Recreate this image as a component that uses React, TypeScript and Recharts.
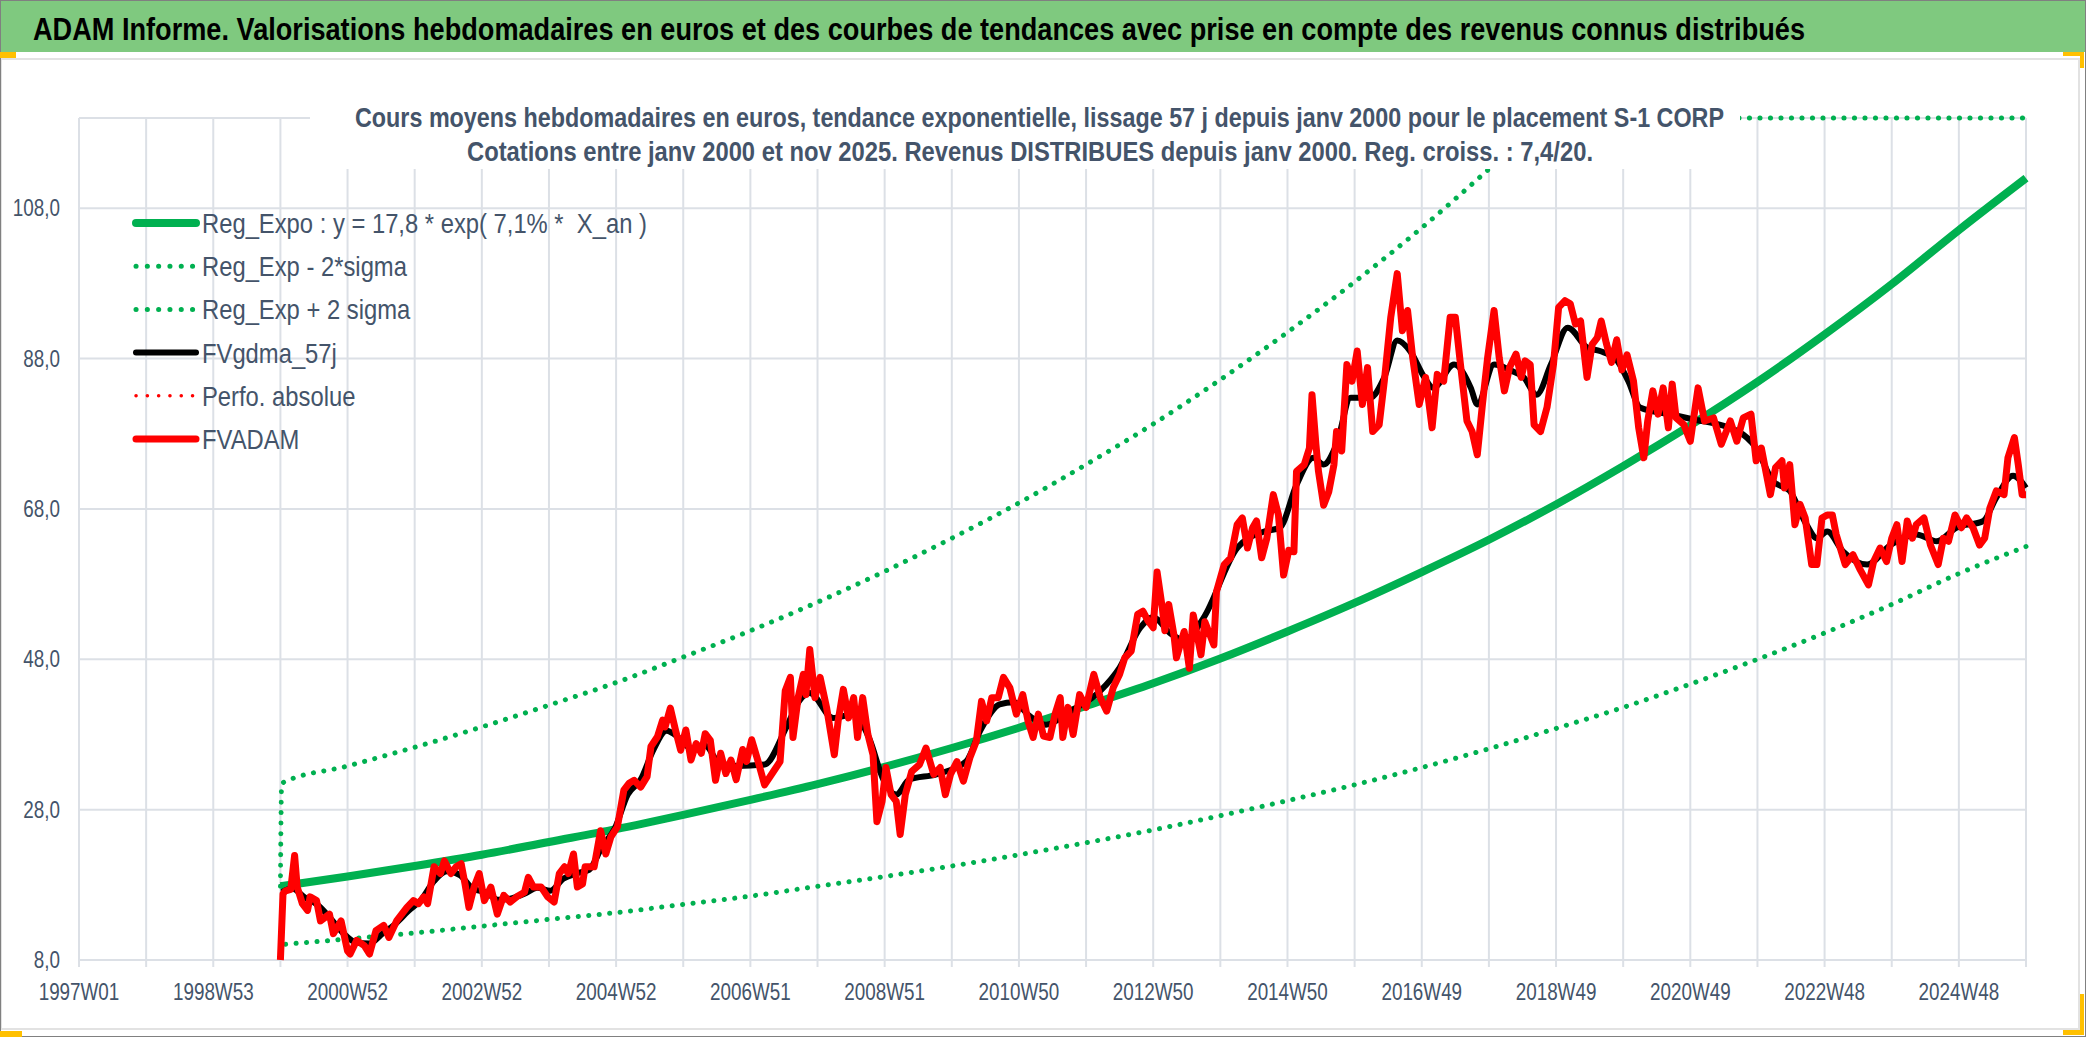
import React from 'react';
import { LineChart, Line, XAxis, YAxis, CartesianGrid } from 'recharts';

const FONT = "'Liberation Sans Narrow', 'Liberation Sans', Arial, sans-serif";
const SLATE = '#44546A';
const GRID = '#DCE0E6';
const GREEN = '#00B050';
const RED = '#FF0000';
const NARROW = 0.82; // the source uses a condensed face

// x = weeks counted from 1997W01, one label every 104 weeks
const X_LABELS = ['1997W01', '1998W53', '2000W52', '2002W52', '2004W52', '2006W51', '2008W51', '2010W50', '2012W50', '2014W50', '2016W49', '2018W49', '2020W49', '2022W48', '2024W48'];
const Y_TICKS = [8, 28, 48, 68, 88, 108];

// Reg_Expo, one value per year from 2000W01 (week 156)
const REG_V = [17.8, 19.1, 20.5, 22.0, 23.7, 25.4, 27.3, 29.3, 31.4, 33.7, 36.2, 38.9, 41.8, 44.8, 48.1, 51.7, 55.5, 59.6, 63.9, 68.6, 73.7, 79.1, 84.9, 91.2, 97.9, 105.1, 112.0];

// Reg_Exp + 2 sigma (stuck on the top of the plot once past 120)
const UPPER_W = [156, 157, 208, 260, 312, 364, 416, 468, 520, 572, 624, 676, 728, 780, 832, 884, 936, 988, 1040, 1092, 1136, 1508];
const UPPER_V = [17.8, 31.5, 33.8, 36.3, 39.0, 41.9, 44.9, 48.3, 51.8, 55.6, 59.7, 64.1, 68.8, 73.9, 79.3, 85.2, 91.5, 98.2, 105.4, 113.2, 120, 120];

// Reg_Exp - 2*sigma
const LOWER_W = [160, 208, 260, 312, 364, 416, 468, 520, 572, 624, 676, 728, 780, 832, 884, 936, 988, 1040, 1092, 1144, 1196, 1248, 1300, 1352, 1404, 1456, 1508];
const LOWER_V = [10.1, 10.8, 11.6, 12.5, 13.4, 14.3, 15.4, 16.5, 17.8, 19.1, 20.5, 22.0, 23.6, 25.3, 27.2, 29.2, 31.3, 33.6, 36.1, 38.8, 41.6, 44.7, 48.0, 51.5, 55.3, 59.4, 63.0];

// FVgdma_57j [week, value]
const GDMA: [number, number][] = [
  [157, 17.0], [165, 17.5], [175, 16.3], [185, 15.3], [195, 13.5], [205, 11.5], [215, 10.3], [225, 10.2], [235, 11.5], [245, 12.8],
  [255, 14.5], [265, 16.0], [275, 18.5], [285, 19.8], [295, 19.3], [305, 17.5], [315, 17.0], [325, 16.0], [335, 16.2], [345, 16.8],
  [355, 17.6], [365, 17.2], [375, 18.8], [385, 19.5], [395, 20.0], [405, 23.0], [415, 25.5], [425, 30.0], [435, 32.0], [445, 36.0],
  [455, 38.5], [465, 37.5], [475, 36.0], [485, 36.5], [496, 34.2], [510, 33.8], [531, 34.0], [548, 39.0], [558, 42.5], [566, 43.5],
  [584, 40.2], [600, 40.7], [612, 37.5], [623, 32.0], [633, 30.0], [643, 32.0], [664, 32.7], [687, 34.4], [698, 38.5], [713, 42.0],
  [724, 42.3], [736, 40.5], [749, 39.3], [767, 41.0], [791, 43.8], [806, 46.9], [822, 52.2], [832, 53.6], [845, 51.5], [856, 50.5],
  [871, 53.5], [897, 62.8], [918, 65.0], [930, 65.5], [943, 71.2], [956, 74.8], [964, 73.9], [974, 76.6], [985, 82.8], [1000, 82.8],
  [1011, 85.5], [1021, 90.4], [1031, 89.0], [1042, 85.5], [1049, 84.1], [1065, 87.2], [1078, 84.1], [1083, 81.9], [1096, 87.2], [1109, 86.4],
  [1119, 85.5], [1129, 83.2], [1140, 87.2], [1153, 92.1], [1168, 89.5], [1178, 89.0], [1190, 88.0], [1200, 85.0], [1209, 81.5], [1235, 80.5],
  [1248, 80.0], [1284, 78.4], [1299, 76.1], [1312, 71.7], [1325, 70.4], [1338, 65.9], [1346, 64.1], [1354, 65.0], [1366, 62.4], [1385, 60.6],
  [1403, 63.2], [1423, 64.6], [1439, 63.7], [1454, 65.5], [1475, 66.4], [1485, 69.5], [1498, 72.4], [1508, 70.8],
];

// FVADAM [week, value]
const ADAM: [number, number][] = [
  [156, 8.0], [158, 16.8], [160, 17.2], [164, 17.4], [167, 21.9], [169, 17.7], [173, 15.5], [177, 14.6], [179, 16.4], [184, 15.9],
  [187, 13.2], [194, 14.1], [197, 11.5], [203, 13.2], [208, 9.2], [210, 8.8], [215, 10.6], [221, 9.9], [225, 8.8], [230, 11.9],
  [236, 12.6], [240, 11.0], [246, 13.2], [254, 15.0], [259, 15.9], [263, 15.5], [267, 16.4], [270, 15.5], [275, 20.4], [280, 19.5],
  [283, 21.2], [288, 19.5], [292, 20.4], [296, 20.8], [299, 18.1], [302, 15.0], [306, 17.7], [310, 19.5], [314, 15.9], [319, 17.7],
  [324, 14.1], [329, 16.6], [334, 15.7], [339, 16.4], [345, 17.0], [348, 19.0], [352, 17.7], [358, 17.7], [363, 16.4], [368, 15.7],
  [372, 19.5], [376, 20.4], [379, 19.5], [383, 22.1], [386, 17.7], [390, 18.1], [392, 20.4], [399, 20.4], [404, 25.2], [408, 22.1],
  [412, 24.4], [417, 25.7], [422, 30.6], [426, 31.5], [430, 31.9], [435, 31.0], [440, 32.4], [443, 36.4], [448, 37.7], [452, 39.9],
  [454, 39.0], [458, 41.5], [462, 38.6], [466, 35.9], [470, 38.6], [474, 34.6], [478, 36.8], [482, 35.5], [485, 38.1], [489, 37.2],
  [493, 31.9], [497, 35.5], [501, 32.8], [505, 34.6], [509, 32.0], [514, 36.0], [517, 34.4], [521, 37.3], [526, 34.4], [531, 31.3],
  [538, 33.1], [543, 34.4], [547, 43.8], [551, 45.6], [553, 37.6], [557, 42.9], [561, 46.0], [563, 43.3], [566, 49.3], [570, 42.9],
  [574, 45.6], [579, 41.6], [585, 35.3], [588, 39.8], [592, 44.0], [596, 40.2], [600, 42.9], [603, 37.6], [607, 42.9], [611, 38.0],
  [615, 35.3], [618, 26.4], [622, 29.1], [625, 33.6], [629, 30.0], [633, 29.1], [636, 24.7], [640, 30.0], [645, 33.1], [651, 34.0],
  [656, 36.2], [662, 32.7], [667, 33.6], [671, 30.0], [675, 32.7], [680, 34.4], [685, 31.8], [690, 34.9], [695, 37.1], [699, 42.4],
  [703, 39.8], [707, 42.9], [712, 42.9], [716, 45.6], [721, 44.2], [726, 40.7], [731, 43.3], [735, 39.8], [739, 37.6], [743, 40.7],
  [747, 37.8], [752, 37.6], [756, 40.7], [760, 42.9], [762, 37.6], [766, 41.6], [770, 38.0], [775, 43.3], [780, 41.6], [786, 46.0],
  [791, 42.9], [796, 41.1], [801, 44.2], [806, 46.0], [810, 48.2], [815, 49.1], [820, 54.0], [824, 54.4], [828, 53.1], [832, 52.2],
  [835, 59.6], [839, 54.9], [841, 51.8], [844, 55.3], [848, 51.3], [850, 48.2], [853, 50.0], [856, 51.7], [860, 46.8], [863, 53.9],
  [869, 48.6], [872, 53.0], [879, 49.9], [881, 57.0], [887, 60.6], [892, 61.5], [897, 65.9], [901, 66.8], [905, 62.8], [909, 65.5],
  [912, 66.4], [916, 61.5], [920, 64.1], [925, 69.9], [929, 67.2], [933, 59.2], [937, 62.5], [941, 62.3], [943, 73.0], [949, 73.9],
  [953, 76.1], [955, 83.2], [958, 76.6], [960, 73.0], [964, 68.5], [968, 70.3], [972, 73.9], [974, 78.3], [978, 75.7], [982, 87.2],
  [986, 85.0], [990, 89.0], [994, 81.9], [998, 86.8], [1002, 78.3], [1007, 79.2], [1011, 85.0], [1016, 93.5], [1021, 99.3], [1025, 91.7],
  [1029, 94.4], [1033, 88.1], [1038, 81.9], [1043, 85.5], [1048, 78.8], [1052, 85.9], [1057, 85.0], [1062, 93.5], [1066, 93.5], [1070, 87.2],
  [1075, 79.7], [1079, 78.3], [1083, 75.2], [1087, 81.9], [1091, 88.1], [1096, 94.4], [1100, 88.1], [1104, 83.7], [1108, 86.8], [1113, 88.6],
  [1117, 85.5], [1120, 87.7], [1124, 87.2], [1127, 79.2], [1132, 78.3], [1137, 81.5], [1142, 87.2], [1146, 94.8], [1151, 95.7], [1155, 95.3],
  [1159, 92.6], [1163, 93.0], [1168, 85.5], [1172, 89.9], [1176, 90.8], [1179, 93.0], [1183, 90.0], [1187, 87.5], [1191, 90.5], [1195, 86.5],
  [1199, 88.5], [1204, 85.0], [1208, 78.8], [1212, 74.8], [1215, 79.7], [1219, 83.7], [1223, 80.6], [1227, 84.1], [1231, 78.8], [1234, 84.6],
  [1237, 80.1], [1243, 79.2], [1248, 77.0], [1254, 84.1], [1259, 79.7], [1266, 80.1], [1272, 76.6], [1279, 79.7], [1284, 77.0], [1289, 80.1],
  [1295, 80.6], [1299, 74.4], [1303, 76.1], [1310, 69.9], [1314, 73.5], [1319, 74.4], [1321, 70.8], [1325, 73.9], [1329, 65.9], [1333, 68.6],
  [1337, 66.8], [1342, 60.6], [1346, 60.6], [1350, 66.8], [1354, 67.2], [1358, 67.2], [1361, 64.6], [1368, 60.6], [1374, 61.9], [1379, 60.1],
  [1386, 57.9], [1390, 61.0], [1395, 62.8], [1400, 61.0], [1404, 64.1], [1408, 65.9], [1412, 61.0], [1416, 66.4], [1420, 64.1], [1423, 65.9],
  [1429, 66.8], [1434, 63.2], [1440, 60.6], [1444, 64.1], [1448, 63.7], [1453, 67.2], [1458, 65.5], [1462, 66.8], [1467, 65.5], [1472, 63.2],
  [1476, 64.1], [1480, 68.1], [1485, 70.4], [1491, 69.9], [1494, 74.8], [1499, 77.5], [1502, 73.9], [1505, 69.9], [1508, 69.9],
];

const LEGEND = [
  { name: 'Reg_Expo : y = 17,8 * exp( 7,1% *  X_an )', color: GREEN, width: 8, dash: '' },
  { name: 'Reg_Exp - 2*sigma', color: GREEN, width: 5, dash: '0.1 11.2' },
  { name: 'Reg_Exp + 2 sigma', color: GREEN, width: 5, dash: '0.1 11.2' },
  { name: 'FVgdma_57j', color: '#000000', width: 6, dash: '' },
  { name: 'Perfo. absolue', color: RED, width: 3.5, dash: '0.1 11.2' },
  { name: 'FVADAM', color: RED, width: 7, dash: '' },
];

const X_TICKS = Array.from({ length: 30 }, (_, i) => i * 52);

const regData = REG_V.map((v, k) => ({ w: 156 + 52 * k, v }));
const upperData = UPPER_W.map((w, i) => ({ w, v: UPPER_V[i] }));
const lowerData = LOWER_W.map((w, i) => ({ w, v: LOWER_V[i] }));
const gdmaData = GDMA.map(([w, v]) => ({ w, v }));
const adamData = ADAM.map(([w, v]) => ({ w, v }));

const fmtX = (w: number) => (w % 104 === 0 ? X_LABELS[w / 104] ?? '' : '');
const fmtY = (v: number) => v.toFixed(1).replace('.', ',');

function XTick(props: any) {
  const { x, y, payload } = props;
  const s = fmtX(payload.value);
  return (
    <g transform={`translate(${x},${y}) scale(${NARROW},1)`}>
      {s ? <text x={0} y={0} dy="0.71em" textAnchor="middle" fill={SLATE} fontSize={23} fontFamily={FONT}>{s}</text> : null}
    </g>
  );
}

function YTick(props: any) {
  const { x, y, payload } = props;
  return (
    <g transform={`translate(${x},${y}) scale(${NARROW},1)`}>
      <text x={0} y={0} dy="0.355em" textAnchor="end" fill={SLATE} fontSize={23} fontFamily={FONT}>{fmtY(payload.value)}</text>
    </g>
  );
}

// condensed text line: scaled horizontally so it spans `w` pixels on screen
function Squeezed({ x, y, w, k, size, weight, fill, children }: any) {
  return (
    <text transform={`translate(${x},${y}) scale(${k},1)`} fontFamily={FONT} fontWeight={weight} fontSize={size} fill={fill} textLength={w / k} lengthAdjust="spacingAndGlyphs">
      {children}
    </text>
  );
}

function Overlay() {
  return (
    <svg width={2086} height={1037} style={{ position: 'absolute', left: 0, top: 0, pointerEvents: 'none' }}>
      {/* header */}
      <rect x={0} y={0} width={2086} height={52} fill="#7FC97F" />
      <Squeezed x={33} y={40} w={1772} k={0.8} size={32} weight={700} fill="#000">
        ADAM Informe. Valorisations hebdomadaires en euros et des courbes de tendances avec prise en compte des revenus connus distribués
      </Squeezed>
      {/* chart frame */}
      <rect x={1} y={59} width={2078} height={970} fill="none" stroke="#E2E2E2" strokeWidth={2} />
      {/* subtitle box */}
      <rect x={310} y={62} width={1430} height={107} fill="#fff" />
      <Squeezed x={355} y={127} w={1369} k={0.85} size={27} weight={700} fill={SLATE}>
        Cours moyens hebdomadaires en euros, tendance exponentielle, lissage 57 j depuis janv 2000 pour le placement S-1 CORP
      </Squeezed>
      <Squeezed x={467} y={161} w={1126} k={0.85} size={27} weight={700} fill={SLATE}>
        Cotations entre janv 2000 et nov 2025. Revenus DISTRIBUES depuis janv 2000. Reg. croiss. : 7,4/20.
      </Squeezed>
      {/* legend */}
      {LEGEND.map((e, i) => {
        const cy = 223 + i * 43.2;
        return (
          <g key={e.name}>
            <line x1={136} x2={196} y1={cy} y2={cy} stroke={e.color} strokeWidth={e.width} strokeLinecap="round" strokeDasharray={e.dash || undefined} />
            <text transform={`translate(202,${cy + 10}) scale(0.85,1)`} xmlSpace="preserve" fontFamily={FONT} fontSize={28} fill={SLATE}>{e.name}</text>
          </g>
        );
      })}
      {/* outer border and selection handles */}
      <rect x={0.5} y={0.5} width={2085} height={1036} fill="none" stroke="#808080" strokeWidth={1} />
      <rect x={0} y={52} width={16} height={6} fill="#FFC000" />
      <path d="M2063 52 H2084 V68 H2080 V56 H2063 Z" fill="#FFC000" />
      <rect x={0} y={1031} width={22} height={6} fill="#FFC000" />
      <path d="M2080 994 H2084 V1035 H2063 V1030 H2080 Z" fill="#FFC000" />
    </svg>
  );
}

export default function App() {
  return (
    <div style={{ position: 'absolute', left: 0, top: 0, width: 2086, height: 1037, background: '#fff', overflow: 'hidden' }}>
      <div style={{ position: 'absolute', left: 0, top: 0 }}>
        <LineChart width={2086} height={1037} margin={{ top: 118, right: 60, bottom: 37, left: 9 }}>
          <CartesianGrid stroke={GRID} strokeWidth={2} />
          <XAxis
            type="number"
            dataKey="w"
            domain={[0, 1508]}
            ticks={X_TICKS}
            interval={0}
            axisLine={false}
            tickLine={{ stroke: GRID, strokeWidth: 2 }}
            tickSize={7}
            tickMargin={17}
            height={40}
            tick={<XTick />}
          />
          <YAxis
            type="number"
            domain={[8, 120]}
            ticks={Y_TICKS}
            interval={0}
            axisLine={false}
            tickLine={false}
            tickSize={0}
            tickMargin={19}
            width={70}
            tick={<YTick />}
          />
          <Line data={regData} dataKey="v" type="monotone" stroke={GREEN} strokeWidth={8} dot={false} isAnimationActive={false} />
          <Line data={lowerData} dataKey="v" type="monotone" stroke={GREEN} strokeWidth={5} strokeDasharray="0.1 10.4" strokeLinecap="round" dot={false} isAnimationActive={false} />
          <Line data={upperData} dataKey="v" type="monotone" stroke={GREEN} strokeWidth={5} strokeDasharray="0.1 10.4" strokeLinecap="round" dot={false} isAnimationActive={false} />
          <Line data={gdmaData} dataKey="v" type="monotone" stroke="#000" strokeWidth={6} dot={false} isAnimationActive={false} />
          <Line data={adamData} dataKey="v" type="linear" stroke={RED} strokeWidth={7} strokeLinejoin="round" dot={false} isAnimationActive={false} />
        </LineChart>
      </div>
      <Overlay />
    </div>
  );
}
